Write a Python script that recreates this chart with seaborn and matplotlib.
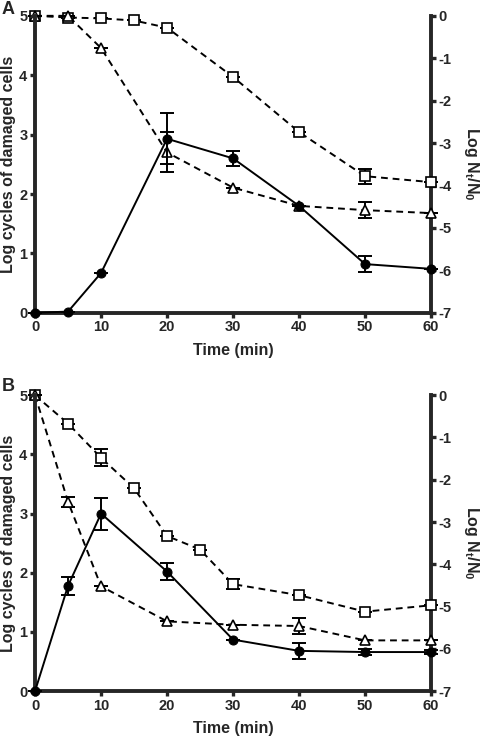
import numpy as np
import pandas as pd
import matplotlib
matplotlib.use("Agg")
import matplotlib.pyplot as plt
import seaborn as sns


# -----------------------
# Data
# -----------------------

# Panel A
time_a_cells = [0, 5, 10, 20, 30, 40, 50, 60]
damaged_a = [0.0, 0.02, 0.67, 2.93, 2.60, 1.80, 0.82, 0.74]
damaged_a_err = [0, 0, 0, 0.43, 0.13, 0, 0.14, 0]

time_a_sq = [0, 5, 10, 15, 20, 30, 40, 50, 60]
logn_a_sq = [0.0, -0.04, -0.06, -0.11, -0.28, -1.44, -2.74, -3.78, -3.92]
logn_a_sq_err = [0, 0, 0, 0, 0, 0, 0, 0.18, 0]

time_a_tri = [0, 5, 10, 20, 30, 40, 50, 60]
logn_a_tri = [0.0, 0.0, -0.76, -3.22, -4.05, -4.48, -4.58, -4.65]
logn_a_tri_err = [0, 0, 0, 0.47, 0, 0, 0.18, 0]

# Panel B
time_b_cells = [0, 5, 10, 20, 30, 40, 50, 60]
damaged_b = [0.0, 1.78, 3.00, 2.02, 0.87, 0.68, 0.66, 0.66]
damaged_b_err = [0, 0.15, 0.27, 0.15, 0, 0.14, 0.05, 0.04]

time_b_sq = [0, 5, 10, 15, 20, 25, 30, 40, 50, 60]
logn_b_sq = [0.0, -0.67, -1.48, -2.20, -3.33, -3.65, -4.47, -4.73, -5.12, -4.97]
logn_b_sq_err = [0, 0, 0.2, 0, 0, 0, 0.12, 0, 0, 0]

time_b_tri = [0, 5, 10, 20, 30, 40, 50, 60]
logn_b_tri = [0.0, -2.52, -4.52, -5.35, -5.43, -5.46, -5.80, -5.80]
logn_b_tri_err = [0, 0.12, 0, 0, 0, 0.18, 0, 0]

x_ticks = [0, 10, 20, 30, 40, 50, 60]
left_ticks = [0, 1, 2, 3, 4, 5]
right_ticks = [0, -1, -2, -3, -4, -5, -6, -7]


# -----------------------
# Style
# -----------------------

sns.set_style("ticks")
plt.rcParams['font.family'] = ['Liberation Sans', 'DejaVu Sans']
plt.rcParams['font.weight'] = 'bold'
plt.rcParams['axes.unicode_minus'] = False
plt.rcParams['mathtext.fontset'] = 'custom'
plt.rcParams['mathtext.bf'] = 'Liberation Sans:bold'
plt.rcParams['mathtext.rm'] = 'Liberation Sans:bold'

W, H = 480, 736


def draw_panel(ax, letter, letter_y, cells, sq, tri):
    ax2 = ax.twinx()

    # damaged cells (left axis)
    t, y, e = cells
    df = pd.DataFrame({'t': t, 'y': y})
    ax.errorbar(t, y, yerr=e, fmt='none', ecolor='black',
                elinewidth=1.4, capsize=5, capthick=1.4, zorder=4)
    sns.lineplot(data=df, x='t', y='y', ax=ax, color='black',
                 marker='o', markersize=6.5, markeredgecolor='black',
                 linewidth=1.4, zorder=5)

    # log Nt/N0 (right axis)
    for (t, y, e), mk in [(sq, 's'), (tri, '^')]:
        df = pd.DataFrame({'t': t, 'y': y})
        ax2.errorbar(t, y, yerr=e, fmt='none', ecolor='black',
                     elinewidth=1.4, capsize=5, capthick=1.4, zorder=3)
        sns.lineplot(data=df, x='t', y='y', ax=ax2, color='black',
                     marker=mk, markersize=7, markerfacecolor='white',
                     markeredgecolor='black', markeredgewidth=1.2,
                     linestyle=(0, (3.5, 2.5)), linewidth=1.4, zorder=3)

    ax.set_xlim(0, 60)
    ax.set_ylim(0, 5)
    ax2.set_ylim(-7, 0)
    ax.set_xticks(x_ticks)
    ax.set_yticks(left_ticks)
    ax2.set_yticks(right_ticks)

    ax.set_xlabel("Time (min)", fontsize=11.5, fontweight='bold', labelpad=6)
    ax.set_ylabel("Log cycles of damaged cells", fontsize=11.5,
                  fontweight='bold', va='center')
    ax.yaxis.set_label_coords(-0.068, 0.5)
    ax2.set_ylabel(r"Log N$_\mathbf{t}$/N$_\mathbf{0}$", fontsize=11.5,
                   fontweight='bold', rotation=270, va='center')
    ax2.yaxis.set_label_coords(1.103, 0.5)

    for a in (ax, ax2):
        a.spines['top'].set_visible(False)
        for s in ('left', 'right', 'bottom'):
            a.spines[s].set_linewidth(2.8)
        a.tick_params(width=2.4, length=3.5, labelsize=10.5, pad=2)
        for lab in a.get_xticklabels() + a.get_yticklabels():
            lab.set_fontweight('bold')
    ax.spines['right'].set_visible(False)
    ax2.spines['left'].set_visible(False)
    ax2.spines['bottom'].set_visible(False)
    ax.set_zorder(ax2.get_zorder() + 1)
    ax.patch.set_visible(False)
    for a in (ax, ax2):
        for ln in a.lines:
            ln.set_clip_on(False)

    fig.text(2 / W, 1 - letter_y / H, letter, fontsize=13,
             fontweight='bold', ha='left', va='center')


fig = plt.figure(figsize=(W / 100, H / 100), dpi=100)
ax_a = fig.add_axes([0.073, 0.575, 0.825, 0.4035])
ax_b = fig.add_axes([0.073, 0.061, 0.825, 0.402])

draw_panel(ax_a, "A", 10,
           (time_a_cells, damaged_a, damaged_a_err),
           (time_a_sq, logn_a_sq, logn_a_sq_err),
           (time_a_tri, logn_a_tri, logn_a_tri_err))
draw_panel(ax_b, "B", 386,
           (time_b_cells, damaged_b, damaged_b_err),
           (time_b_sq, logn_b_sq, logn_b_sq_err),
           (time_b_tri, logn_b_tri, logn_b_tri_err))

fig.savefig("out.png", dpi=100)
